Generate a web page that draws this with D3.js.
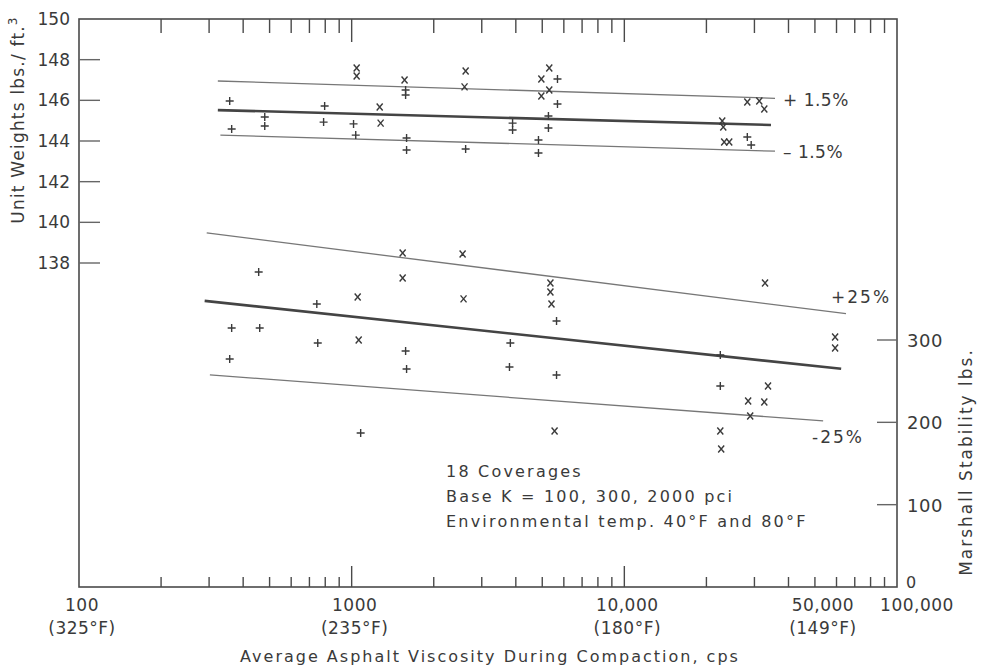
<!DOCTYPE html>
<html>
<head>
<meta charset="utf-8">
<script src="https://cdn.jsdelivr.net/npm/d3@7"></script>
<style>
  body { margin: 0; background: #ffffff; }
  svg { display: block; }
  text { font-family: "DejaVu Sans", sans-serif; fill: #3a3a3a; }
</style>
</head>
<body>
<div id="chart"></div>
<script>
// Unit weight and Marshall stability vs asphalt viscosity

// unit weight points, [cps, lbs/ft3]
const uwPlus = [
  [357, 145.97], [363, 144.59], [480, 145.18], [480, 144.74], [796, 145.72], [789, 144.93],
  [1016, 144.84], [1035, 144.29], [1577, 146.51], [1577, 146.26], [1590, 144.15], [1590, 143.56],
  [2618, 143.61], [5686, 147.05], [5686, 145.82], [3892, 144.88], [3892, 144.54], [5268, 145.23],
  [5268, 144.64], [4843, 144.05], [4843, 143.41], [28250, 144.20], [29190, 143.80]
];
const uwCross = [
  [1563, 147.0], [1267, 145.67], [1277, 144.88], [1043, 147.59], [1043, 147.20], [2618, 147.44],
  [2594, 146.66], [5305, 147.59], [4962, 147.05], [5305, 146.51], [4962, 146.21], [28250, 145.92],
  [31260, 145.97], [32610, 145.57], [22860, 144.98], [23060, 144.69], [23240, 143.95], [24250, 143.95]
];

// Marshall stability points, [cps, lbs]
const msPlus = [
  [456, 382.6], [745, 343.8], [363, 314.6], [460, 314.6], [751, 296.4], [1577, 286.7], [1590, 264.8],
  [357, 276.9], [3819, 296.4], [3791, 267.2], [1079, 187.1], [5641, 323.1], [5641, 257.5],
  [22490, 281.8], [22490, 244.1]
];
const msCross = [
  [1538, 405.7], [2552, 404.5], [1538, 375.3], [1052, 352.3], [2572, 349.9], [1061, 300.0],
  [5357, 369.2], [5357, 358.3], [5405, 343.8], [5548, 189.5], [32810, 369.2], [59300, 303.7],
  [59300, 290.3], [33650, 244.1], [28450, 225.9], [32610, 224.7], [28950, 207.7], [22490, 189.5],
  [22660, 167.6]
];

// fitted lines and bands
const uwUpper = [[323, 146.95], [35700, 146.1]];
const uwMean = [[323, 145.52], [34500, 144.79]];
const uwLower = [[330, 144.29], [35700, 143.5]];
const msUpper = [[294, 430], [65000, 332]];
const msMean = [[289, 347.5], [62400, 265]];
const msLower = [[302, 257.6], [53600, 201.7]];

// tick labels
const xLabels = [[100, "100", "(325°F)"], [1000, "1000", "(235°F)"], [10000, "10,000", "(180°F)"],
                 [50000, "50,000", "(149°F)"], [100000, "100,000", ""]];
const uwTicks = [138, 140, 142, 144, 146, 148];
const msTicks = [100, 200, 300];

const width = 981, height = 667;
const margin = {left: 79, right: 897, top: 19, bottom: 587};

const svg = d3.select("#chart").append("svg")
  .attr("width", width).attr("height", height);

const x = d3.scaleLog().domain([100, 100000]).range([margin.left, margin.right]);
const yW = d3.scaleLinear().domain([138, 150]).range([263, margin.top]);
const yM = d3.scaleLinear().domain([0, 300]).range([margin.bottom, 340]);

const axisColor = "#4a4a4a";

// frame
svg.append("rect")
  .attr("x", margin.left).attr("y", margin.top)
  .attr("width", margin.right - margin.left).attr("height", margin.bottom - margin.top)
  .attr("fill", "none").attr("stroke", axisColor).attr("stroke-width", 1.6);

// log ticks top and bottom
const logTicks = x.ticks().filter(t => t > 100 && t < 100000);
logTicks.forEach(t => {
  let major = Math.abs(Math.log10(t) - Math.round(Math.log10(t))) < 1e-6;
  svg.append("line")
    .attr("x1", x(t)).attr("x2", x(t))
    .attr("y1", margin.top).attr("y2", margin.top + (major ? 23 : 14))
    .attr("stroke", axisColor).attr("stroke-width", 1.4);
  svg.append("line")
    .attr("x1", x(t)).attr("x2", x(t))
    .attr("y1", margin.bottom).attr("y2", margin.bottom - (major ? 21 : 10))
    .attr("stroke", axisColor).attr("stroke-width", 1.4);
});

// x labels
xLabels.forEach(d => {
  let cx = x(d[0]) + (d[0] === 100000 ? 20 : d[0] === 50000 ? 8 : 3);
  svg.append("text").attr("x", cx).attr("y", 611)
    .attr("text-anchor", "middle").attr("font-size", 17)
    .attr("letter-spacing", 0.5).text(d[1]);
  if (d[2]) {
    svg.append("text").attr("x", cx).attr("y", 634)
      .attr("text-anchor", "middle").attr("font-size", 17)
      .attr("letter-spacing", 0.5).text(d[2]);
  }
});

svg.append("text")
  .attr("x", 490).attr("y", 662)
  .attr("text-anchor", "middle").attr("font-size", 16)
  .attr("letter-spacing", 2)
  .text("Average Asphalt Viscosity During Compaction, cps");

// left axis
uwTicks.forEach(t => {
  svg.append("line")
    .attr("x1", margin.left).attr("x2", margin.left + 21)
    .attr("y1", yW(t)).attr("y2", yW(t))
    .attr("stroke", "#666").attr("stroke-width", 1.4);
});
uwTicks.concat([150]).forEach(t => {
  svg.append("text")
    .attr("x", 70).attr("y", yW(t) + 6)
    .attr("text-anchor", "end").attr("font-size", 17).text(t);
});

const lt = svg.append("text")
  .attr("transform", "translate(24,120) rotate(-90)")
  .attr("text-anchor", "middle").attr("font-size", 17)
  .attr("letter-spacing", 1.2);
lt.append("tspan").text("Unit Weights  lbs./ ft.");
lt.append("tspan").attr("dy", -7).attr("font-size", 12).text("3");

// right axis
msTicks.forEach(t => {
  svg.append("line")
    .attr("x1", margin.right - 20).attr("x2", margin.right)
    .attr("y1", yM(t)).attr("y2", yM(t))
    .attr("stroke", "#666").attr("stroke-width", 1.4);
});
msTicks.forEach(t => {
  svg.append("text")
    .attr("x", 907).attr("y", yM(t) + 7)
    .attr("font-size", 18).attr("letter-spacing", 0.5).text(t);
});
svg.append("text")
  .attr("x", 906).attr("y", yM(0) + 1)
  .attr("font-size", 16).text(0);

svg.append("text")
  .attr("transform", "translate(972,462) rotate(-90)")
  .attr("text-anchor", "middle").attr("font-size", 17)
  .attr("letter-spacing", 2)
  .text("Marshall Stability lbs.");

// fitted lines
const lineW = d3.line().x(d => x(d[0])).y(d => yW(d[1]));
const lineM = d3.line().x(d => x(d[0])).y(d => yM(d[1]));

[[uwUpper, 1.3, "#777"], [uwMean, 2.6, "#444"], [uwLower, 1.3, "#777"]].forEach(l => {
  svg.append("path").datum(l[0]).attr("d", lineW)
    .attr("fill", "none").attr("stroke", l[2]).attr("stroke-width", l[1]);
});
[[msUpper, 1.3, "#777"], [msMean, 2.6, "#444"], [msLower, 1.3, "#777"]].forEach(l => {
  svg.append("path").datum(l[0]).attr("d", lineM)
    .attr("fill", "none").attr("stroke", l[2]).attr("stroke-width", l[1]);
});

// markers
const plusPath = "M-4,0H4M0,-4V4";
const crossPath = "M-3,-3.5L3,3.5M3,-3.5L-3,3.5";

function drawMarks(data, yScale, path) {
  svg.append("g").selectAll("path")
    .data(data)
    .enter().append("path")
    .attr("transform", d => "translate(" + x(d[0]) + "," + yScale(d[1]) + ")")
    .attr("d", path)
    .attr("fill", "none")
    .attr("stroke", "#3a3a3a")
    .attr("stroke-width", 1.4);
}
drawMarks(uwPlus, yW, plusPath);
drawMarks(uwCross, yW, crossPath);
drawMarks(msPlus, yM, plusPath);
drawMarks(msCross, yM, crossPath);

// band labels
svg.append("text").attr("x", 783).attr("y", 106).attr("font-size", 17).attr("letter-spacing", 0.5).text("+ 1.5%");
svg.append("text").attr("x", 783).attr("y", 158).attr("font-size", 17).attr("letter-spacing", 0.5).text("– 1.5%");
svg.append("text").attr("x", 831).attr("y", 303).attr("font-size", 17).attr("letter-spacing", 2).text("+25%");
svg.append("text").attr("x", 812).attr("y", 443).attr("font-size", 17).attr("letter-spacing", 2).text("-25%");

// note
const notes = ["18 Coverages", "Base K = 100, 300, 2000 pci", "Environmental temp. 40°F and 80°F"];
notes.forEach((s, i) => {
  svg.append("text")
    .attr("x", 446).attr("y", 477 + i * 25)
    .attr("font-size", 16).attr("letter-spacing", 2.2)
    .text(s);
});
</script>
</body>
</html>
